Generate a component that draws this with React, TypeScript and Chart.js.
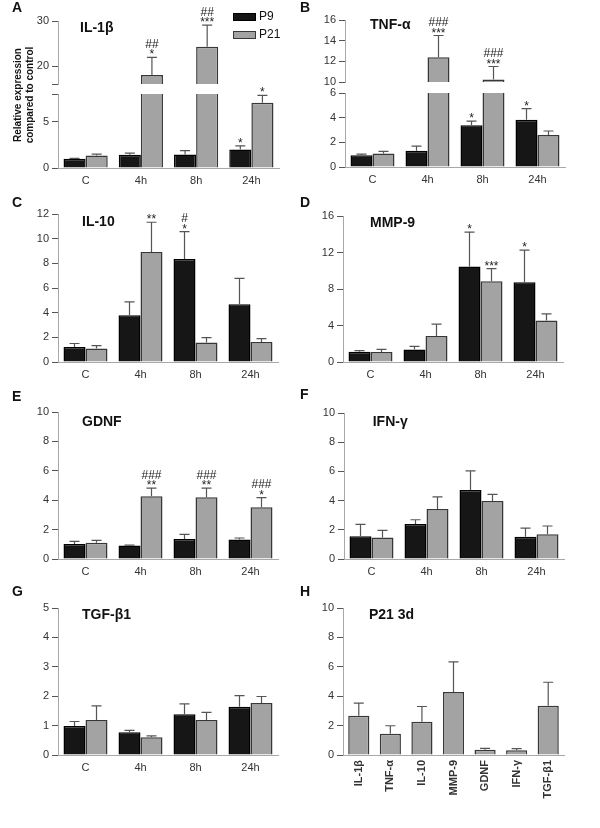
import React, { useEffect, useRef } from 'react';
import { Chart, registerables } from 'chart.js';

Chart.register(...registerables);

const FONT = "'Liberation Sans', Arial, Helvetica, sans-serif";
Chart.defaults.font.family = FONT;

// ---------------- data ----------------
const TIME_POINTS = ['C', '4h', '8h', '24h'];
const SERIES_LABELS = ['P9', 'P21'];

// A  IL-1β
const IL1B_P9 = [1.0, 1.43, 1.47, 2.0];
const IL1B_P9_ERR = [1.05, 1.6, 1.87, 2.4];
const IL1B_P21 = [1.36, 18.0, 24.3, 7.05];
const IL1B_P21_ERR = [1.5, 21.9, 29.1, 7.85];
const IL1B_P9_SIG = ['', '', '', '*'];
const IL1B_P21_SIG = ['', '##\n*', '##\n***', '*'];
const IL1B_TICKS_HIGH = [16, 20, 30];
const IL1B_LABELS_HIGH = ['', '20', '30'];
const IL1B_TICKS_LOW = [0, 5, 8];
const IL1B_LABELS_LOW = ['0', '5', ''];

// B  TNF-α
const TNF_P9 = [0.96, 1.31, 3.39, 3.83];
const TNF_P9_ERR = [1.05, 1.7, 3.72, 4.73];
const TNF_P21 = [1.1, 12.4, 10.25, 2.6];
const TNF_P21_ERR = [1.26, 14.5, 11.5, 2.92];
const TNF_P9_SIG = ['', '', '*', '*'];
const TNF_P21_SIG = ['', '###\n***', '###\n***', ''];
const TNF_TICKS_HIGH = [10, 12, 14, 16];
const TNF_LABELS_HIGH = ['10', '12', '14', '16'];
const TNF_TICKS_LOW = [0, 2, 4, 6];
const TNF_LABELS_LOW = ['0', '2', '4', '6'];

// C  IL-10
const IL10_P9 = [1.22, 3.79, 8.35, 4.69];
const IL10_P9_ERR = [1.5, 4.88, 10.57, 6.78];
const IL10_P21 = [1.1, 8.92, 1.58, 1.63];
const IL10_P21_ERR = [1.33, 11.33, 1.98, 1.9];
const IL10_P9_SIG = ['', '', '#\n*', ''];
const IL10_P21_SIG = ['', '**', '', ''];
const IL10_TICKS = [0, 2, 4, 6, 8, 10, 12];

// D  MMP-9
const MMP9_P9 = [1.12, 1.36, 10.46, 8.73];
const MMP9_P9_ERR = [1.25, 1.72, 14.24, 12.26];
const MMP9_P21 = [1.1, 2.86, 8.84, 4.55];
const MMP9_P21_ERR = [1.38, 4.15, 10.24, 5.28];
const MMP9_P9_SIG = ['', '', '*', '*'];
const MMP9_P21_SIG = ['', '', '***', ''];
const MMP9_TICKS = [0, 4, 8, 12, 16];

// E  GDNF
const GDNF_P9 = [1.02, 0.91, 1.36, 1.32];
const GDNF_P9_ERR = [1.2, 0.95, 1.68, 1.43];
const GDNF_P21 = [1.11, 4.27, 4.2, 3.52];
const GDNF_P21_ERR = [1.27, 4.82, 4.82, 4.18];
const GDNF_P21_SIG = ['', '###\n**', '###\n**', '###\n*'];
const GDNF_TICKS = [0, 2, 4, 6, 8, 10];

// F  IFN-γ
const IFNG_P9 = [1.55, 2.4, 4.73, 1.53];
const IFNG_P9_ERR = [2.37, 2.69, 6.03, 2.12];
const IFNG_P21 = [1.48, 3.42, 3.97, 1.69];
const IFNG_P21_ERR = [1.96, 4.25, 4.43, 2.26];
const IFNG_TICKS = [0, 2, 4, 6, 8, 10];

// G  TGF-β1
const TGFB_P9 = [0.99, 0.77, 1.39, 1.64];
const TGFB_P9_ERR = [1.14, 0.84, 1.74, 2.02];
const TGFB_P21 = [1.19, 0.6, 1.19, 1.77];
const TGFB_P21_ERR = [1.67, 0.65, 1.45, 1.99];
const TGFB_TICKS = [0, 1, 2, 3, 4, 5];

// H  P21 3d
const GENES = ['IL-1β', 'TNF-α', 'IL-10', 'MMP-9', 'GDNF', 'IFN-γ', 'TGF-β1'];
const P21_3D = [2.67, 1.45, 2.26, 4.28, 0.36, 0.32, 3.35];
const P21_3D_ERR = [3.53, 1.99, 3.3, 6.33, 0.45, 0.43, 4.95];
const P21_3D_TICKS = [0, 2, 4, 6, 8, 10];

// ---------------- styles ----------------
const P9_FILL = '#161616';
const P9_BORDER = '#000000';
const P21_FILL = '#a3a3a3';
const P21_BORDER = '#383838';

type Series = {
  label: string;
  values: (number | null)[];
  errors: number[];
  sig?: string[];
  fill: string;
  border: string;
};
type TextItem = {
  text: string;
  x: number;
  y: number;
  font: string;
  align?: CanvasTextAlign;
  rotate?: boolean;
  color?: string;
};
type RectItem = { x: number; y: number; w: number; h: number; fill: string; stroke: string };
type Spec = {
  box: { left: number; top: number; width: number; height: number };
  area: { left: number; top: number; right: number; bottom: number };
  categories: string[];
  series: Series[];
  yMin: number;
  yMax: number;
  ticks: number[];
  tickLabels: string[];
  showX: boolean;
  rotateX?: boolean;
  categoryPct: number;
  texts?: TextItem[];
  rects?: RectItem[];
};

const numLabels = (t: number[]) => t.map((v) => String(v));
const above = (vals: number[], min: number) => vals.map((v) => (v >= min ? v : null));

function pair(
  p9: (number | null)[],
  p9e: number[],
  p21: (number | null)[],
  p21e: number[],
  p9s?: string[],
  p21s?: string[]
): Series[] {
  return [
    { label: SERIES_LABELS[0], values: p9, errors: p9e, sig: p9s, fill: P9_FILL, border: P9_BORDER },
    { label: SERIES_LABELS[1], values: p21, errors: p21e, sig: p21s, fill: P21_FILL, border: P21_BORDER },
  ];
}

const letter = (t: string, x: number, y: number): TextItem => ({ text: t, x, y, font: `bold 14px ${FONT}` });
const title = (t: string, x: number, y: number): TextItem => ({ text: t, x, y, font: `bold 14px ${FONT}` });

function PanelChart({ spec }: { spec: Spec }) {
  const ref = useRef<HTMLCanvasElement>(null);
  useEffect(() => {
    const canvas = ref.current;
    if (!canvas) return;
    const { box, area } = spec;
    const decor = {
      id: 'decor',
      afterDatasetsDraw(chart: any) {
        const ctx = chart.ctx as CanvasRenderingContext2D;
        const y = chart.scales.y;
        spec.series.forEach((s, di) => {
          const meta = chart.getDatasetMeta(di);
          s.values.forEach((v, j) => {
            if (v == null || v > spec.yMax) return;
            const e = s.errors[j];
            if (e > spec.yMax + 1e-9) return;
            const el = meta.data[j];
            if (!el) return;
            const x = el.x;
            const py = y.getPixelForValue(v);
            const pe = y.getPixelForValue(e);
            ctx.save();
            ctx.strokeStyle = '#555';
            ctx.lineWidth = 1.2;
            ctx.beginPath();
            ctx.moveTo(x, py);
            ctx.lineTo(x, pe);
            ctx.moveTo(x - 5, pe);
            ctx.lineTo(x + 5, pe);
            ctx.stroke();
            const sig = s.sig ? s.sig[j] : '';
            if (sig) {
              const lines = sig.split('\n');
              ctx.fillStyle = '#222';
              ctx.font = `12px ${FONT}`;
              ctx.textAlign = 'center';
              ctx.textBaseline = 'alphabetic';
              lines.forEach((ln, k) => {
                const yy = pe + 1 - (lines.length - 1 - k) * 10.5;
                ctx.fillText(ln, x, yy);
              });
            }
            ctx.restore();
          });
        });
      },
      afterDraw(chart: any) {
        const ctx = chart.ctx as CanvasRenderingContext2D;
        ctx.save();
        ctx.translate(-box.left, -box.top);
        (spec.rects || []).forEach((r) => {
          ctx.fillStyle = r.fill;
          ctx.fillRect(r.x, r.y, r.w, r.h);
          ctx.strokeStyle = r.stroke;
          ctx.lineWidth = 1;
          ctx.strokeRect(r.x + 0.5, r.y + 0.5, r.w - 1, r.h - 1);
        });
        (spec.texts || []).forEach((t) => {
          ctx.save();
          ctx.font = t.font;
          ctx.fillStyle = t.color || '#111';
          ctx.textBaseline = 'middle';
          ctx.textAlign = t.align || 'left';
          if (t.rotate) {
            ctx.translate(t.x, t.y);
            ctx.rotate(-Math.PI / 2);
            ctx.fillText(t.text, 0, 0);
          } else {
            ctx.fillText(t.text, t.x, t.y);
          }
          ctx.restore();
        });
        ctx.restore();
      },
    };

    const datasets = spec.series.map((s) => ({
      label: s.label,
      data: s.values,
      backgroundColor: s.fill,
      borderColor: s.border,
      borderWidth: 1.5,
      borderSkipped: 'start',
      categoryPercentage: spec.categoryPct,
      barPercentage: 1,
      clip: 0,
    }));

    const chart = new Chart(canvas, {
      type: 'bar',
      data: { labels: spec.categories, datasets: datasets as any },
      options: {
        responsive: false,
        animation: false,
        devicePixelRatio: 1,
        events: [],
        layout: {
          padding: {
            left: 0,
            top: area.top - box.top,
            right: box.left + box.width - area.right,
            bottom: spec.showX ? 0 : box.top + box.height - area.bottom,
          },
        },
        plugins: {
          legend: { display: false },
          tooltip: { enabled: false },
          title: { display: false },
        },
        scales: {
          x: {
            display: spec.showX,
            offset: true,
            grid: { display: false, drawTicks: false },
            border: { display: true, color: '#a8a8a8', width: 1 },
            ticks: {
              color: '#333',
              font: { size: 11, weight: spec.rotateX ? 'bold' : 'normal' },
              padding: spec.rotateX ? 5 : 6,
              autoSkip: false,
              maxRotation: spec.rotateX ? 90 : 0,
              minRotation: spec.rotateX ? 90 : 0,
            },
            afterFit: (axis: any) => {
              axis.height = spec.showX ? box.top + box.height - area.bottom : 0;
            },
          },
          y: {
            min: spec.yMin,
            max: spec.yMax,
            grid: {
              display: true,
              drawOnChartArea: false,
              drawTicks: true,
              tickLength: 6,
              color: '#555',
              tickColor: '#555',
              lineWidth: 1,
            },
            border: { display: true, color: '#a8a8a8', width: 1 },
            ticks: {
              color: '#333',
              font: { size: 11 },
              padding: 3,
              callback: (_v: any, i: number) => spec.tickLabels[i] ?? '',
            },
            afterBuildTicks: (axis: any) => {
              axis.ticks = spec.ticks.map((v) => ({ value: v }));
            },
            afterFit: (axis: any) => {
              axis.width = area.left - box.left;
            },
          },
        },
      } as any,
      plugins: [decor as any],
    });
    return () => chart.destroy();
  }, [spec]);

  return (
    <canvas
      ref={ref}
      width={spec.box.width}
      height={spec.box.height}
      style={{ position: 'absolute', left: spec.box.left, top: spec.box.top, width: spec.box.width, height: spec.box.height }}
    />
  );
}

// ---------------- panel specs ----------------
const BOX_A = { left: 0, top: 0, width: 300, height: 200 };
const BOX_B = { left: 300, top: 0, width: 300, height: 200 };
const BOX_C = { left: 0, top: 190, width: 300, height: 200 };
const BOX_D = { left: 300, top: 190, width: 300, height: 200 };
const BOX_E = { left: 0, top: 380, width: 300, height: 200 };
const BOX_F = { left: 300, top: 380, width: 300, height: 200 };
const BOX_G = { left: 0, top: 570, width: 300, height: 258 };
const BOX_H = { left: 300, top: 570, width: 300, height: 258 };

const SPECS: Spec[] = [
  // A upper
  {
    box: BOX_A,
    area: { left: 58, top: 21, right: 279, bottom: 84 },
    categories: TIME_POINTS,
    series: pair(above(IL1B_P9, 16), IL1B_P9_ERR, above(IL1B_P21, 16), IL1B_P21_ERR, IL1B_P9_SIG, IL1B_P21_SIG),
    yMin: 16,
    yMax: 30,
    ticks: IL1B_TICKS_HIGH,
    tickLabels: IL1B_LABELS_HIGH,
    showX: false,
    categoryPct: 0.8,
  },
  // A lower
  {
    box: BOX_A,
    area: { left: 58, top: 94, right: 279, bottom: 168 },
    categories: TIME_POINTS,
    series: pair(IL1B_P9, IL1B_P9_ERR, IL1B_P21, IL1B_P21_ERR, IL1B_P9_SIG, IL1B_P21_SIG),
    yMin: 0,
    yMax: 8,
    ticks: IL1B_TICKS_LOW,
    tickLabels: IL1B_LABELS_LOW,
    showX: true,
    categoryPct: 0.8,
    texts: [
      letter('A', 12, 8.5),
      title('IL-1β', 80, 28),
      { text: 'Relative expression', x: 18, y: 95, font: `bold 10px ${FONT}`, align: 'center', rotate: true },
      { text: 'compared to control', x: 30, y: 95, font: `bold 10px ${FONT}`, align: 'center', rotate: true },
      { text: SERIES_LABELS[0], x: 259, y: 16.8, font: `12px ${FONT}` },
      { text: SERIES_LABELS[1], x: 259, y: 34.8, font: `12px ${FONT}` },
    ],
    rects: [
      { x: 233, y: 13, w: 23, h: 8, fill: P9_FILL, stroke: P9_BORDER },
      { x: 233, y: 31, w: 23, h: 8, fill: P21_FILL, stroke: P21_BORDER },
    ],
  },
  // B upper
  {
    box: BOX_B,
    area: { left: 345, top: 20, right: 565, bottom: 82 },
    categories: TIME_POINTS,
    series: pair(above(TNF_P9, 10), TNF_P9_ERR, above(TNF_P21, 10), TNF_P21_ERR, TNF_P9_SIG, TNF_P21_SIG),
    yMin: 10,
    yMax: 16,
    ticks: TNF_TICKS_HIGH,
    tickLabels: TNF_LABELS_HIGH,
    showX: false,
    categoryPct: 0.8,
  },
  // B lower
  {
    box: BOX_B,
    area: { left: 345, top: 93, right: 565, bottom: 167 },
    categories: TIME_POINTS,
    series: pair(TNF_P9, TNF_P9_ERR, TNF_P21, TNF_P21_ERR, TNF_P9_SIG, TNF_P21_SIG),
    yMin: 0,
    yMax: 6,
    ticks: TNF_TICKS_LOW,
    tickLabels: TNF_LABELS_LOW,
    showX: true,
    categoryPct: 0.8,
    texts: [letter('B', 300, 8), title('TNF-α', 370, 25)],
  },
  // C
  {
    box: BOX_C,
    area: { left: 58, top: 214, right: 278, bottom: 362 },
    categories: TIME_POINTS,
    series: pair(IL10_P9, IL10_P9_ERR, IL10_P21, IL10_P21_ERR, IL10_P9_SIG, IL10_P21_SIG),
    yMin: 0,
    yMax: 12,
    ticks: IL10_TICKS,
    tickLabels: numLabels(IL10_TICKS),
    showX: true,
    categoryPct: 0.8,
    texts: [letter('C', 12, 203.5), title('IL-10', 82, 221.7)],
  },
  // D
  {
    box: BOX_D,
    area: { left: 343, top: 216, right: 563, bottom: 362 },
    categories: TIME_POINTS,
    series: pair(MMP9_P9, MMP9_P9_ERR, MMP9_P21, MMP9_P21_ERR, MMP9_P9_SIG, MMP9_P21_SIG),
    yMin: 0,
    yMax: 16,
    ticks: MMP9_TICKS,
    tickLabels: numLabels(MMP9_TICKS),
    showX: true,
    categoryPct: 0.8,
    texts: [letter('D', 300, 203.5), title('MMP-9', 370, 223)],
  },
  // E
  {
    box: BOX_E,
    area: { left: 58, top: 412, right: 278, bottom: 559 },
    categories: TIME_POINTS,
    series: pair(GDNF_P9, GDNF_P9_ERR, GDNF_P21, GDNF_P21_ERR, undefined, GDNF_P21_SIG),
    yMin: 0,
    yMax: 10,
    ticks: GDNF_TICKS,
    tickLabels: numLabels(GDNF_TICKS),
    showX: true,
    categoryPct: 0.8,
    texts: [letter('E', 12, 396.7), title('GDNF', 82, 422.3)],
  },
  // F
  {
    box: BOX_F,
    area: { left: 344, top: 413, right: 564, bottom: 559 },
    categories: TIME_POINTS,
    series: pair(IFNG_P9, IFNG_P9_ERR, IFNG_P21, IFNG_P21_ERR),
    yMin: 0,
    yMax: 10,
    ticks: IFNG_TICKS,
    tickLabels: numLabels(IFNG_TICKS),
    showX: true,
    categoryPct: 0.8,
    texts: [letter('F', 300, 395.5), title('IFN-γ', 372.7, 422.3)],
  },
  // G
  {
    box: BOX_G,
    area: { left: 58, top: 608, right: 278, bottom: 755 },
    categories: TIME_POINTS,
    series: pair(TGFB_P9, TGFB_P9_ERR, TGFB_P21, TGFB_P21_ERR),
    yMin: 0,
    yMax: 5,
    ticks: TGFB_TICKS,
    tickLabels: numLabels(TGFB_TICKS),
    showX: true,
    categoryPct: 0.8,
    texts: [letter('G', 12, 591.7), title('TGF-β1', 82, 615)],
  },
  // H
  {
    box: BOX_H,
    area: { left: 343, top: 608, right: 564, bottom: 755 },
    categories: GENES,
    series: [
      { label: SERIES_LABELS[1], values: P21_3D, errors: P21_3D_ERR, fill: P21_FILL, border: P21_BORDER },
    ],
    yMin: 0,
    yMax: 10,
    ticks: P21_3D_TICKS,
    tickLabels: numLabels(P21_3D_TICKS),
    showX: true,
    rotateX: true,
    categoryPct: 0.67,
    texts: [letter('H', 300, 591.7), title('P21 3d', 369, 615)],
  },
];

export default function App() {
  return (
    <div style={{ position: 'absolute', left: 0, top: 0, width: 600, height: 828, background: '#fff', overflow: 'hidden' }}>
      {SPECS.map((s, i) => (
        <PanelChart key={i} spec={s} />
      ))}
    </div>
  );
}
